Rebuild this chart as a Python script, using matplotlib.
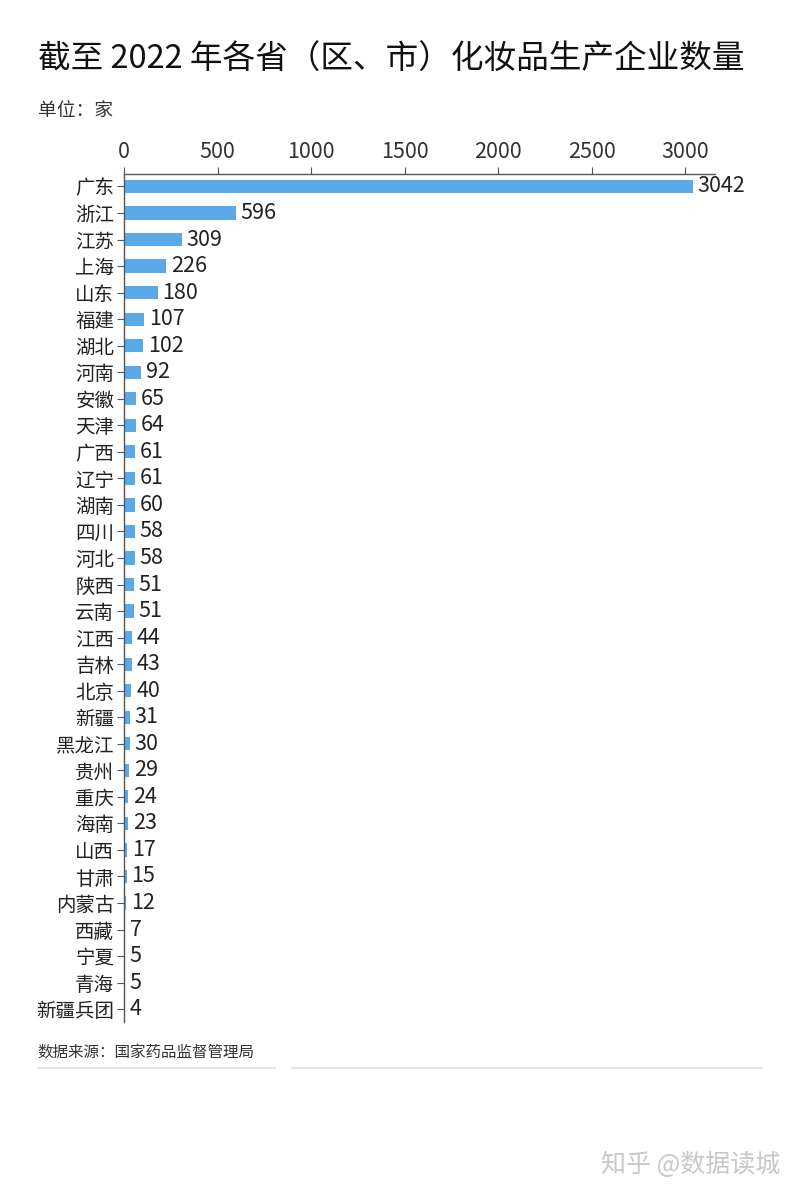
import matplotlib
matplotlib.use("Agg")
import matplotlib.pyplot as plt
from matplotlib.lines import Line2D

plt.rcParams['font.family'] = ['Noto Sans CJK SC', 'DejaVu Sans']

# data: 2022 cosmetics manufacturers by province
provinces = ["广东", "浙江", "江苏", "上海", "山东", "福建", "湖北", "河南", "安徽", "天津",
             "广西", "辽宁", "湖南", "四川", "河北", "陕西", "云南", "江西", "吉林", "北京",
             "新疆", "黑龙江", "贵州", "重庆", "海南", "山西", "甘肃", "内蒙古", "西藏", "宁夏",
             "青海", "新疆兵团"]
counts = [3042, 596, 309, 226, 180, 107, 102, 92, 65, 64,
          61, 61, 60, 58, 58, 51, 51, 44, 43, 40,
          31, 30, 29, 24, 23, 17, 15, 12, 7, 5,
          5, 4]
xticks = [0, 500, 1000, 1500, 2000, 2500, 3000]

title = "截至 2022 年各省（区、市）化妆品生产企业数量"
unit = "单位：家"
source = "数据来源：国家药品监督管理局"
watermark = "知乎 @数据读城"

fig = plt.figure(figsize=(8, 12), dpi=100)
ax = fig.add_axes([0.155, 0.148, 0.739, 0.707])

n = len(provinces)
pos = list(range(n))
ax.barh(pos, counts, height=0.5, color="#5aaaea")
for p, v in zip(pos, counts):
    ax.text(v + 25, p, str(v), va="center", ha="left", fontsize=15.5, color="#222222")

ax.set_ylim(n - 1 + 0.5, -0.47)
ax.set_xlim(0, 3160)
ax.set_yticks(pos)
ax.set_yticklabels(provinces, fontsize=14, color="#222222")
ax.set_xticks(xticks)
ax.xaxis.tick_top()
ax.tick_params(axis="x", labelsize=15.5, colors="#333333", length=5, direction="out", pad=3)
ax.tick_params(axis="y", length=5, direction="out", pad=2, color="#555555")
ax.tick_params(axis="x", color="#555555")
for s in ["right", "bottom"]:
    ax.spines[s].set_visible(False)
for s in ["top", "left"]:
    ax.spines[s].set_color("#555555")
    ax.spines[s].set_linewidth(1)

fig.text(0.047, 0.950, title, fontsize=23.5, color="#111111", va="center", ha="left")
fig.text(0.047, 0.908, unit, fontsize=13.5, color="#333333", va="center", ha="left")
fig.text(0.047, 0.123, source, fontsize=11.2, color="#333333", va="center", ha="left")
fig.add_artist(Line2D([0.047, 0.344], [0.110, 0.110], color="#dddddd", lw=1.2))
fig.add_artist(Line2D([0.365, 0.953], [0.110, 0.110], color="#dddddd", lw=1.2))
fig.text(0.975, 0.029, watermark, fontsize=18, color="#c8c8c8", va="center", ha="right")

fig.savefig("out.png", dpi=100, facecolor="white")
